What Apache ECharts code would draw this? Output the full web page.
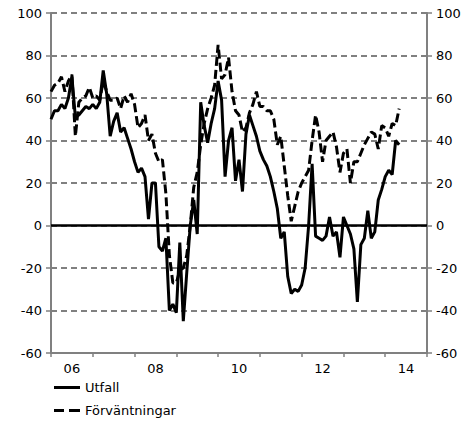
<!DOCTYPE html>
<html>
<head>
<meta charset="utf-8">
<script src="https://cdn.jsdelivr.net/npm/echarts@6/dist/echarts.min.js"></script>
<style>
  html, body { margin: 0; padding: 0; background: #fff; }
  #chart { width: 470px; height: 427px; }
</style>
</head>
<body>
<div id="chart"></div>
<script>
// Monthly observations starting January 2006
const startYear = 2006;
const yearLabels = ['06', '07', '08', '09', '10', '11', '12', '13', '14'];
const yMin = -60;
const yMax = 100;
const yStep = 20;

const utfall = [
  50, 54, 54, 57, 55, 60, 70, 51, 52, 54, 56, 55,
  57, 55, 58, 73, 62, 42, 49, 53, 44, 46, 41, 36,
  30, 25, 27, 23, 3, 20, 20, -10, -12, -6, -40, -37,
  -41, -8, -45, -22, 0, 12, -4, 58, 47, 39, 48, 55,
  68, 59, 23, 40, 46, 21, 31, 16, 43, 52, 47, 42,
  35, 31, 28, 23, 16, 8, -6, -3, -24, -32, -30, -31,
  -28, -20, 0, 29, -5, -6, -7, -5, 4, -5, -3, -15,
  4, 0, -4, -11, -36, -9, -6, 7, -6, -3, 12, 17,
  23, 26, 24, 40, 38
];

const forvantningar = [
  63, 66, 67, 70, 63, 68, 71, 42, 58, 60, 61, 65,
  60, 61, 59, 68, 63, 59, 59, 60, 55, 61, 58, 62,
  57, 46, 48, 52, 40, 43, 34, 30, 31, 15, -14, -27,
  -27, -21, -20, -14, 0, 18, 25, 38, 48, 55, 60, 66,
  85, 69, 71, 79, 63, 54, 52, 44, 46, 53, 57, 63,
  56, 56, 54, 54, 50, 38, 42, 28, 14, 2, 9, 16,
  20, 23, 26, 40, 52, 44, 30, 40, 42, 44, 37, 25,
  34, 36, 20, 30, 30, 34, 38, 41, 44, 43, 36, 47,
  46, 42, 48, 47, 55
];

// month index -> fractional year on the time axis
const toPoints = arr => arr.map((v, i) => [startYear + i / 12, v]);

const gridColor = '#808080';
const font = 'DejaVu Sans, Verdana, sans-serif';

function yAxis(pos, withGrid) {
  return {
    type: 'value',
    position: pos,
    min: yMin,
    max: yMax,
    interval: yStep,
    axisLine: { show: true, onZero: false, lineStyle: { color: gridColor, width: 2 } },
    axisTick: { show: true, length: 5, lineStyle: { color: gridColor, width: 1.5 } },
    axisLabel: { color: '#000', fontSize: 13, fontFamily: font, margin: 9 },
    splitLine: withGrid
      ? { show: true, lineStyle: { color: gridColor, width: 2, type: [6, 4] } }
      : { show: false }
  };
}

function legendBox(name, icon, top) {
  return {
    orient: 'vertical',
    left: 54,
    top: top,
    itemWidth: 26,
    itemHeight: 3,
    padding: 0,
    textStyle: { color: '#000', fontSize: 13, fontFamily: font },
    data: [{ name: name, icon: icon }]
  };
}

const chart = echarts.init(document.getElementById('chart'), null, { renderer: 'svg' });
chart.setOption({
  animation: false,
  grid: { left: 51, right: 43, top: 13, bottom: 74 },
  legend: [
    legendBox('Utfall', 'path://M0,0H26V3H0Z', 381),
    legendBox('Förväntningar', 'path://M0,0H10V3H0ZM15,0H26V3H15Z', 404)
  ],
  xAxis: [
    {
      type: 'value',
      min: startYear,
      max: startYear + yearLabels.length,
      interval: 1,
      axisLine: { show: true, onZero: false, lineStyle: { color: gridColor, width: 2 } },
      axisTick: { show: true, length: 4, lineStyle: { color: gridColor, width: 1.5 } },
      axisLabel: { show: false },
      splitLine: { show: false }
    },
    {
      type: 'category',
      position: 'bottom',
      data: yearLabels,
      boundaryGap: true,
      axisLine: { show: false },
      axisTick: { show: false },
      axisLabel: { interval: 1, color: '#000', fontSize: 13, fontFamily: font, margin: 9 },
      splitLine: { show: false }
    }
  ],
  yAxis: [yAxis('left', true), yAxis('right', false)],
  series: [
    {
      name: 'Utfall',
      type: 'line',
      xAxisIndex: 0,
      yAxisIndex: 0,
      data: toPoints(utfall),
      symbol: 'none',
      lineStyle: { color: '#000', width: 3 },
      itemStyle: { color: '#000' },
      markLine: {
        silent: true,
        symbol: 'none',
        label: { show: false },
        lineStyle: { color: '#000', width: 2.5, type: 'solid' },
        data: [{ yAxis: 0 }]
      }
    },
    {
      name: 'Förväntningar',
      type: 'line',
      xAxisIndex: 0,
      yAxisIndex: 0,
      data: toPoints(forvantningar),
      symbol: 'none',
      lineStyle: { color: '#000', width: 3, type: [9, 4] },
      itemStyle: { color: '#000' }
    }
  ]
});
</script>
</body>
</html>
